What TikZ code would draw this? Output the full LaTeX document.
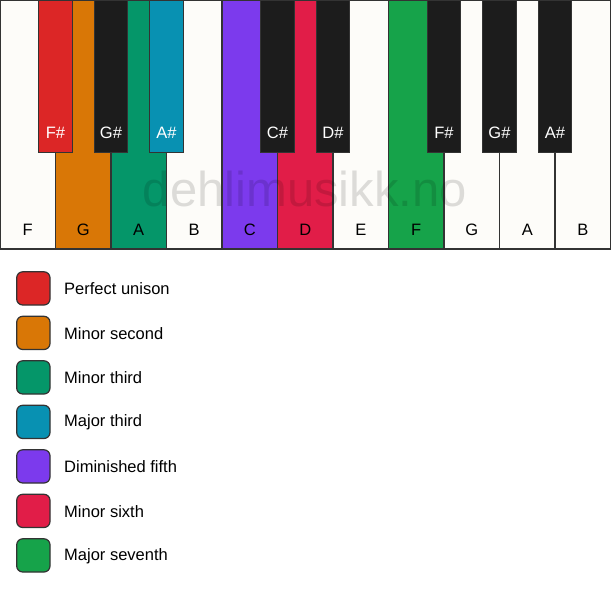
\documentclass[tikz,border=0pt]{standalone}
\usepackage{fontspec}
\setmainfont{Liberation Sans}

\definecolor{keyline}{HTML}{333333}
\definecolor{ivory}{HTML}{FDFCF9}
\definecolor{ebony}{HTML}{1C1C1C}
\definecolor{unison}{HTML}{DC2626}
\definecolor{minsecond}{HTML}{D97706}
\definecolor{minthird}{HTML}{059669}
\definecolor{majthird}{HTML}{0891B2}
\definecolor{dimfifth}{HTML}{7C3AED}
\definecolor{minsixth}{HTML}{E11D48}
\definecolor{majseventh}{HTML}{16A34A}

\tikzset{
  key/.style={draw=keyline, line width=1.2pt},
  whitekey/.style={key, fill=ivory},
  blackkey/.style={key, fill=ebony},
  whitelabel/.style={font=\fontsize{16.5}{19}\selectfont, text=black},
  blacklabel/.style={font=\fontsize{16.5}{19}\selectfont, text=white},
  swatch/.style={draw=keyline, line width=1.2pt, rounded corners=6pt},
  legendtext/.style={anchor=west, font=\fontsize{16.5}{19}\selectfont, inner sep=0pt}
}

\begin{document}
\begin{tikzpicture}[x=1pt, y=-1pt]
\useasboundingbox (0,0) rectangle (611,594);

% White keys
\filldraw[whitekey] (0,0) rectangle (55.5,249);
\filldraw[whitekey, fill=minsecond] (55.5,0) rectangle (111,249);
\filldraw[whitekey, fill=minthird] (111,0) rectangle (166.5,249);
\filldraw[whitekey] (166.5,0) rectangle (222,249);
\filldraw[whitekey, fill=dimfifth] (222,0) rectangle (277.5,249);
\filldraw[whitekey, fill=minsixth] (277.5,0) rectangle (333,249);
\filldraw[whitekey] (333,0) rectangle (388.5,249);
\filldraw[whitekey, fill=majseventh] (388.5,0) rectangle (444,249);
\filldraw[whitekey] (444,0) rectangle (499.5,249);
\filldraw[whitekey] (499.5,0) rectangle (555,249);
\filldraw[whitekey] (555,0) rectangle (610.5,249);

% Watermark
\node[font=\fontsize{49}{53}\selectfont, text=black, text opacity=0.13] (wm) at (305,189) {dehlimusikk.no};

% Black keys
\filldraw[blackkey, fill=unison] (38.85,0) rectangle (72.15,152.5);
\filldraw[blackkey] (94.35,0) rectangle (127.65,152.5);
\filldraw[blackkey, fill=majthird] (149.85,0) rectangle (183.15,152.5);
\filldraw[blackkey] (260.85,0) rectangle (294.15,152.5);
\filldraw[blackkey] (316.35,0) rectangle (349.65,152.5);
\filldraw[blackkey] (427.35,0) rectangle (460.65,152.5);
\filldraw[blackkey] (482.85,0) rectangle (516.15,152.5);
\filldraw[blackkey] (538.35,0) rectangle (571.65,152.5);

% Note names
\node[whitelabel] (f1) at (27.75,230) {F};
\node[whitelabel] (g1) at (83.25,230) {G};
\node[whitelabel] (a1) at (138.75,230) {A};
\node[whitelabel] (b1) at (194.25,230) {B};
\node[whitelabel] (c2) at (249.75,230) {C};
\node[whitelabel] (d2) at (305.25,230) {D};
\node[whitelabel] (e2) at (360.75,230) {E};
\node[whitelabel] (f2) at (416.25,230) {F};
\node[whitelabel] (g2) at (471.75,230) {G};
\node[whitelabel] (a2) at (527.25,230) {A};
\node[whitelabel] (b2) at (582.75,230) {B};
\node[blacklabel] (fs1) at (55.5,133) {F\#};
\node[blacklabel] (gs1) at (111,133) {G\#};
\node[blacklabel] (as1) at (166.5,133) {A\#};
\node[blacklabel] (cs2) at (277.5,133) {C\#};
\node[blacklabel] (ds2) at (333,133) {D\#};
\node[blacklabel] (fs2) at (444,133) {F\#};
\node[blacklabel] (gs2) at (499.5,133) {G\#};
\node[blacklabel] (as2) at (555,133) {A\#};

% Legend
\filldraw[swatch, fill=unison] (16.7,271.8) rectangle (50,305);
\node[legendtext] (lunison) at (64,289) {Perfect unison};
\filldraw[swatch, fill=minsecond] (16.7,316.3) rectangle (50,349.5);
\node[legendtext] (lsecond) at (64,333.5) {Minor second};
\filldraw[swatch, fill=minthird] (16.7,360.8) rectangle (50,394);
\node[legendtext] (lminthird) at (64,378) {Minor third};
\filldraw[swatch, fill=majthird] (16.7,405.3) rectangle (50,438.5);
\node[legendtext] (lmajthird) at (64,422.5) {Major third};
\filldraw[swatch, fill=dimfifth] (16.7,449.8) rectangle (50,483);
\node[legendtext] (lfifth) at (64,467) {Diminished fifth};
\filldraw[swatch, fill=minsixth] (16.7,494.3) rectangle (50,527.5);
\node[legendtext] (lsixth) at (64,511.5) {Minor sixth};
\filldraw[swatch, fill=majseventh] (16.7,538.8) rectangle (50,572);
\node[legendtext] (lseventh) at (64,556) {Major seventh};
\end{tikzpicture}
\end{document}
